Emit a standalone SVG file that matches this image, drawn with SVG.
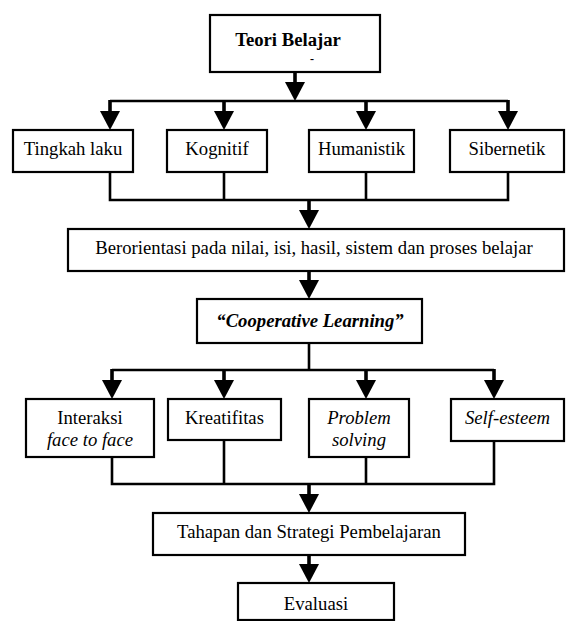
<svg xmlns="http://www.w3.org/2000/svg" width="567" height="621" viewBox="0 0 567 621" font-family="'Liberation Serif', 'DejaVu Serif', serif">
<style>
.box{fill:#fff;stroke:#000;stroke-width:2.2}
.ln{fill:none;stroke:#000;stroke-width:2.6}
.ar{fill:none;stroke:#000;stroke-width:3.6}
.t{font-family:'Liberation Serif','DejaVu Serif',serif;font-size:18.7px;fill:#000;text-anchor:middle}
.b{font-weight:bold}
.i{font-style:italic}
</style>
<defs>
<marker id="ah" markerUnits="userSpaceOnUse" viewBox="0 0 19 20" markerWidth="19" markerHeight="20" refX="0" refY="10" orient="auto">
<path d="M0,0 L19,10 L0,20 z" fill="#000"/>
</marker>
</defs>
<rect width="567" height="621" fill="#fff"/>
<g id="connectors">
<line class="ar" x1="295" y1="72" x2="295" y2="82" marker-end="url(#ah)"/>
<line class="ln" x1="110" y1="101" x2="508" y2="101"/>
<line class="ar" x1="110" y1="100" x2="110" y2="111" marker-end="url(#ah)"/>
<line class="ar" x1="224" y1="100" x2="224" y2="111" marker-end="url(#ah)"/>
<line class="ar" x1="366" y1="100" x2="366" y2="111" marker-end="url(#ah)"/>
<line class="ar" x1="508" y1="100" x2="508" y2="111" marker-end="url(#ah)"/>
<path class="ln" d="M110,172 V200 H508 V172 M224,172 V200 M366,172 V200"/>
<line class="ar" x1="309" y1="200" x2="309" y2="210" marker-end="url(#ah)"/>
<line class="ar" x1="309" y1="271" x2="309" y2="280" marker-end="url(#ah)"/>
<line class="ln" x1="309" y1="343" x2="309" y2="370"/>
<line class="ln" x1="112" y1="370" x2="494" y2="370"/>
<line class="ar" x1="112" y1="369" x2="112" y2="380" marker-end="url(#ah)"/>
<line class="ar" x1="224" y1="369" x2="224" y2="380" marker-end="url(#ah)"/>
<line class="ar" x1="366" y1="369" x2="366" y2="380" marker-end="url(#ah)"/>
<line class="ar" x1="494" y1="369" x2="494" y2="380" marker-end="url(#ah)"/>
<path class="ln" d="M112,457 V484 H494 V441 M224,440 V484 M366,457 V484"/>
<line class="ar" x1="309" y1="484" x2="309" y2="494" marker-end="url(#ah)"/>
<line class="ar" x1="309" y1="555" x2="309" y2="564" marker-end="url(#ah)"/>
</g>
<g id="teori">
<rect class="box" x="210" y="15" width="170" height="57"/>
<text class="t b" x="288" y="46">Teori Belajar</text>
<text class="t b" x="312" y="63" style="font-size:12px">-</text>
</g>
<g id="tingkah">
<rect class="box" x="13" y="130" width="120" height="42"/>
<text class="t" x="73" y="155">Tingkah laku</text>
</g>
<g id="kognitif">
<rect class="box" x="167" y="130" width="100" height="42"/>
<text class="t" x="217" y="155">Kognitif</text>
</g>
<g id="humanistik">
<rect class="box" x="309" y="130" width="105" height="42"/>
<text class="t" x="361.5" y="155">Humanistik</text>
</g>
<g id="sibernetik">
<rect class="box" x="450" y="130" width="114" height="42"/>
<text class="t" x="507" y="155">Sibernetik</text>
</g>
<g id="berorientasi">
<rect class="box" x="68" y="229" width="496" height="42"/>
<text class="t" x="314" y="254">Berorientasi pada nilai, isi, hasil, sistem dan proses belajar</text>
</g>
<g id="cooperative">
<rect class="box" x="197" y="299" width="225" height="44"/>
<text class="t b i" x="310" y="327">“Cooperative Learning”</text>
</g>
<g id="interaksi">
<rect class="box" x="26" y="399" width="128" height="58"/>
<text class="t" x="90" y="424">Interaksi</text>
<text class="t i" x="90" y="446">face to face</text>
</g>
<g id="kreatifitas">
<rect class="box" x="168" y="399" width="113" height="41"/>
<text class="t" x="224.5" y="424">Kreatifitas</text>
</g>
<g id="problem">
<rect class="box" x="309" y="399" width="100" height="58"/>
<text class="t i" x="359" y="424">Problem</text>
<text class="t i" x="359" y="446">solving</text>
</g>
<g id="selfesteem">
<rect class="box" x="451" y="399" width="113" height="42"/>
<text class="t i" x="507.5" y="424">Self-esteem</text>
</g>
<g id="tahapan">
<rect class="box" x="153" y="513" width="312" height="42"/>
<text class="t" x="309" y="538">Tahapan dan Strategi Pembelajaran</text>
</g>
<g id="evaluasi">
<rect class="box" x="238" y="583" width="156" height="37"/>
<text class="t" x="316" y="610">Evaluasi</text>
</g>
</svg>
